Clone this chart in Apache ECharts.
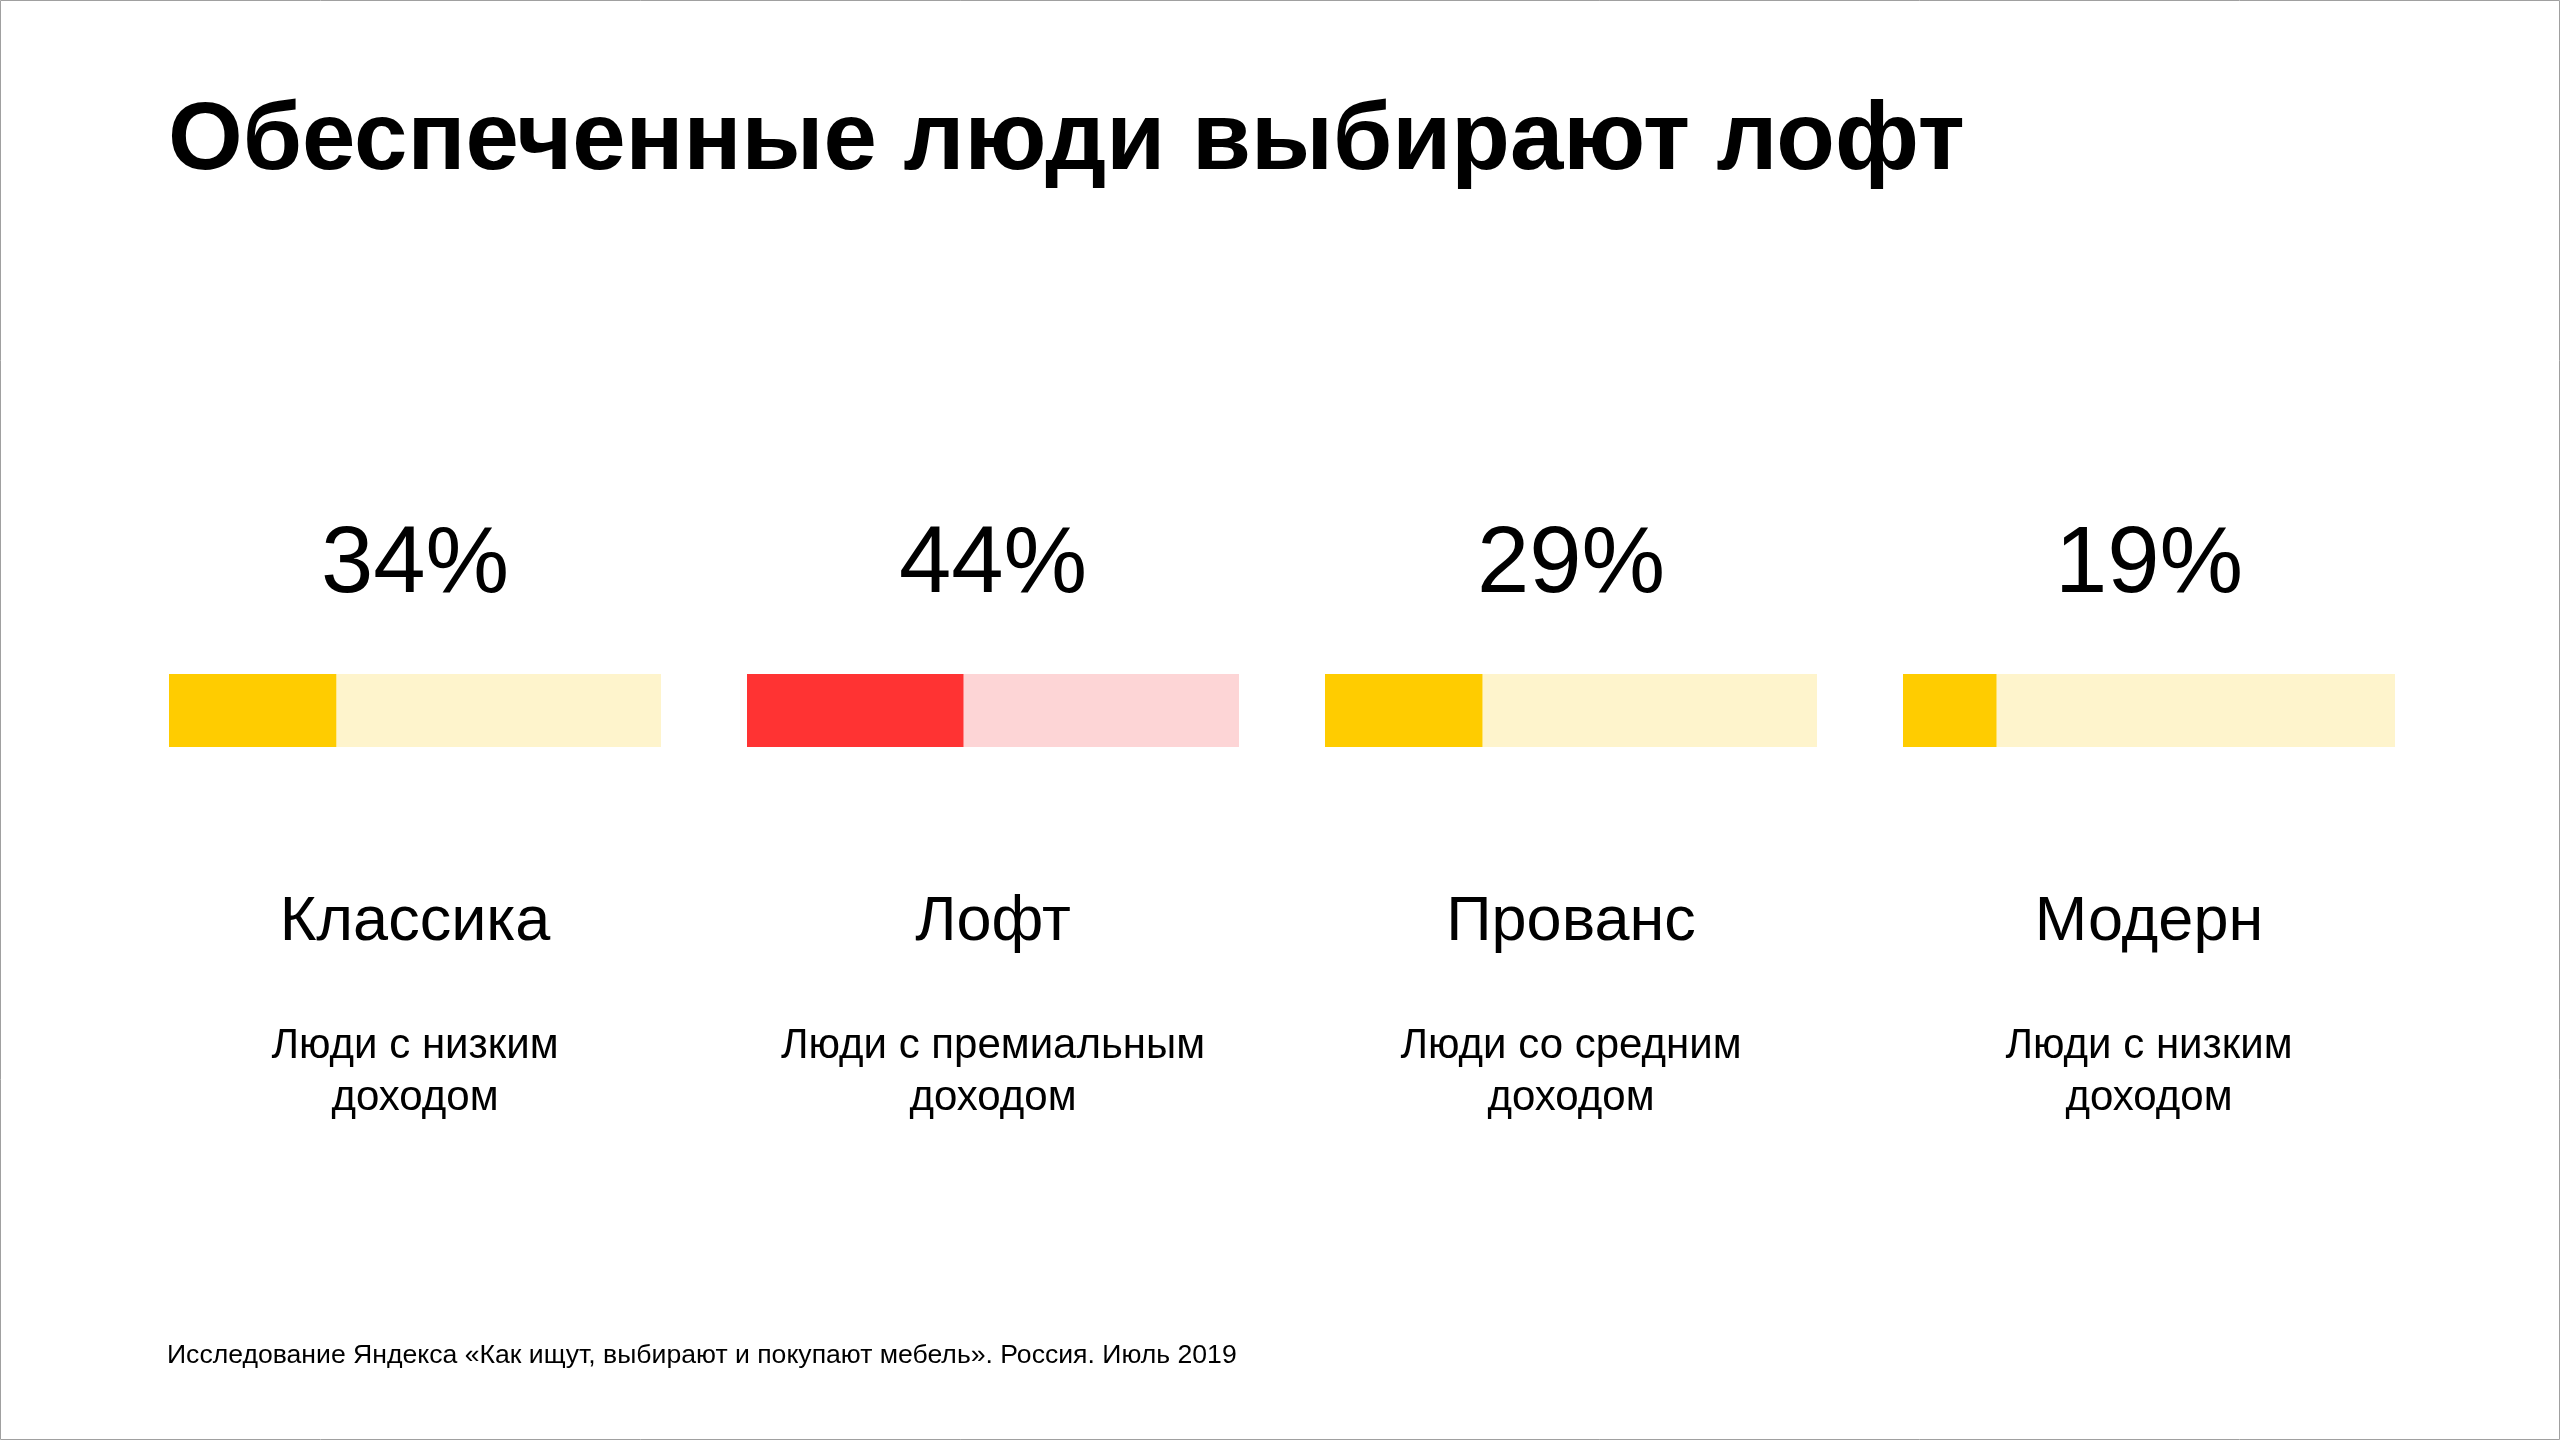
<!DOCTYPE html>
<html>
<head>
<meta charset="utf-8">
<script src="https://cdn.jsdelivr.net/npm/echarts@6/dist/echarts.min.js"></script>
<style>
html,body{margin:0;padding:0;background:#fff;}
#chart{width:2560px;height:1440px;}
</style>
</head>
<body>
<div id="chart"></div>
<script>
const titleText = 'Обеспеченные люди выбирают лофт';
const categories = ['Классика', 'Лофт', 'Прованс', 'Модерн'];
// bar fill lengths as drawn in the picture
const values = [34, 44, 32, 19];
// percentage labels as printed
const valueLabels = ['34%', '44%', '29%', '19%'];
const groups = ['Люди с низким\nдоходом', 'Люди с премиальным\nдоходом', 'Люди со средним\nдоходом', 'Люди с низким\nдоходом'];
const sourceText = 'Исследование Яндекса «Как ищут, выбирают и покупают мебель». Россия. Июль 2019';

const palette = [
  {fill: '#FFCC00', bg: '#FEF4CC'},
  {fill: '#FF3333', bg: '#FDD5D6'},
  {fill: '#FFCC00', bg: '#FEF4CC'},
  {fill: '#FFCC00', bg: '#FEF4CC'}
];

const FONT = '"Liberation Sans", Arial, Helvetica, sans-serif';
const gridLeft0 = 169, pitch = 578, barW = 492, barTop = 674, barH = 73;

const chart = echarts.init(document.getElementById('chart'));
const grids = [], xAxes = [], yAxes = [], series = [], texts = [];

categories.forEach(function (cat, i) {
  const left = gridLeft0 + i * pitch;
  const cx = left + barW / 2;
  grids.push({left: left, top: barTop, width: barW, height: barH, containLabel: false});
  xAxes.push({gridIndex: i, type: 'value', min: 0, max: 100, show: false});
  yAxes.push({gridIndex: i, type: 'category', data: [cat], show: false});
  series.push({
    type: 'bar', xAxisIndex: i, yAxisIndex: i, data: [values[i]],
    barWidth: '100%', showBackground: true,
    backgroundStyle: {color: palette[i].bg},
    itemStyle: {color: palette[i].fill},
    silent: true, animation: false
  });
  texts.push({type: 'text', x: cx, y: 566, style: {text: valueLabels[i], font: '94px ' + FONT, fill: '#000', align: 'center', verticalAlign: 'middle'}});
  texts.push({type: 'text', x: cx, y: 923, style: {text: cat, font: '63px ' + FONT, fill: '#000', align: 'center', verticalAlign: 'middle'}});
  texts.push({type: 'text', x: cx, y: 1072, style: {text: groups[i], font: '42px ' + FONT, lineHeight: 52, fill: '#000', align: 'center', verticalAlign: 'middle'}});
});

texts.push({type: 'text', x: 168, y: 143, style: {text: titleText, font: 'bold 96px ' + FONT, fill: '#000', align: 'left', verticalAlign: 'middle'}});
texts.push({type: 'text', x: 167, y: 1356, style: {text: sourceText, font: '26.6px ' + FONT, fill: '#000', align: 'left', verticalAlign: 'middle'}});
texts.push({type: 'rect', shape: {x: 0.5, y: 0.5, width: 2559, height: 1439}, style: {fill: 'none', stroke: '#A0A0A0', lineWidth: 1}});

chart.setOption({
  backgroundColor: '#fff',
  animation: false,
  grid: grids,
  xAxis: xAxes,
  yAxis: yAxes,
  series: series,
  graphic: texts
});
</script>
</body>
</html>
